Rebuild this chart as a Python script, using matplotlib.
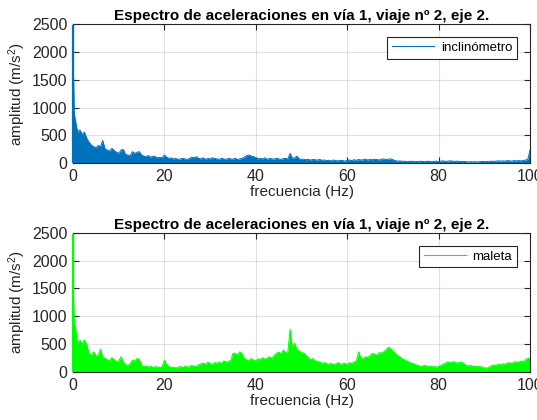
import numpy as np
import matplotlib
matplotlib.use("Agg")
import matplotlib.pyplot as plt

plt.rcParams['font.family'] = ['Liberation Sans', 'DejaVu Sans']
plt.rcParams['mathtext.default'] = 'regular'

# Spectrum peak envelopes, 0.5 Hz bins from 0.5 Hz to 100 Hz (10 bins per row = 5 Hz)
spike_freq = [0.0, 0.1, 0.25]
incl_spike = [2480, 1600, 900]
maleta_spike = [2480, 1390, 850]

incl_amp = [
    780, 560, 600, 520, 560, 450, 380, 330, 300, 280,
    320, 300, 410, 260, 240, 220, 270, 230, 200, 180,
    240, 250, 160, 150, 140, 210, 180, 200, 210, 150,
    130, 120, 140, 110, 130, 120, 100, 110, 100, 150,
    110, 90, 100, 80, 90, 70, 80, 90, 80, 70,
    90, 110, 100, 120, 90, 80, 100, 70, 90, 80,
    100, 90, 80, 70, 90, 80, 70, 90, 80, 75,
    90, 70, 80, 90, 110, 140, 150, 130, 120, 100,
    80, 90, 80, 100, 70, 90, 80, 75, 90, 80,
    70, 85, 90, 80, 180, 90, 100, 130, 80, 70,
    75, 65, 70, 60, 70, 65, 60, 70, 55, 60,
    50, 55, 45, 60, 50, 45, 55, 50, 40, 55,
    60, 50, 65, 55, 70, 60, 65, 75, 60, 70,
    65, 75, 70, 60, 75, 80, 70, 75, 80, 65,
    50, 40, 45, 35, 40, 30, 35, 40, 30, 35,
    30, 40, 35, 30, 40, 35, 30, 35, 40, 30,
    40, 45, 35, 40, 45, 40, 35, 40, 35, 30,
    35, 30, 25, 30, 25, 30, 25, 30, 35, 30,
    35, 30, 40, 35, 40, 45, 40, 45, 40, 50,
    45, 40, 50, 45, 50, 45, 50, 60, 70, 240,
]

maleta_amp = [
    815, 520, 576, 500, 576, 490, 330, 300, 365, 290,
    300, 410, 270, 250, 220, 200, 260, 220, 190, 200,
    275, 180, 130, 120, 150, 216, 200, 246, 230, 120,
    100, 110, 90, 110, 80, 100, 90, 80, 100, 216,
    130, 100, 80, 90, 70, 90, 100, 80, 110, 90,
    100, 120, 100, 110, 130, 150, 160, 140, 180, 150,
    140, 170, 160, 180, 150, 200, 180, 190, 210, 336,
    340, 300, 365, 320, 240, 220, 200, 246, 210, 200,
    240, 220, 260, 230, 250, 276, 240, 300, 336, 360,
    330, 396, 350, 360, 768, 430, 516, 400, 380, 350,
    340, 300, 260, 220, 246, 200, 190, 180, 160, 170,
    150, 140, 160, 130, 150, 170, 140, 150, 160, 130,
    170, 150, 186, 200, 365, 250, 240, 276, 260, 300,
    336, 320, 300, 350, 340, 365, 400, 444, 420, 380,
    336, 300, 276, 240, 220, 200, 180, 160, 150, 130,
    120, 100, 110, 120, 100, 110, 96, 100, 90, 100,
    120, 140, 160, 186, 170, 180, 186, 160, 170, 180,
    150, 126, 110, 120, 100, 110, 96, 100, 90, 80,
    66, 90, 110, 126, 120, 140, 130, 150, 140, 160,
    170, 150, 180, 186, 170, 200, 186, 220, 246, 246,
]

x_ticks = [0, 20, 40, 60, 80, 100]
y_ticks = [0, 500, 1000, 1500, 2000, 2500]
title_text = 'Espectro de aceleraciones en vía 1, viaje nº 2, eje 2.'

bins = np.arange(1, len(incl_amp) + 1) * 0.5
freq = np.concatenate([spike_freq, bins])
series = [
    (np.concatenate([incl_spike, incl_amp]), '#0072BD', 'inclinómetro'),
    (np.concatenate([maleta_spike, maleta_amp]), '#00FF00', 'maleta'),
]

dark = (0.15, 0.15, 0.15)
fig = plt.figure(figsize=(5.37, 4.2), dpi=100)
rects = [[0.136, 0.611, 0.851, 0.332], [0.136, 0.114, 0.851, 0.332]]

for rect, (amp, color, label) in zip(rects, series):
    ax = fig.add_axes(rect)
    ax.fill_between(freq, 0, amp, color=color, linewidth=0)
    ax.plot(freq, amp, color=color, linewidth=0.7, label=label)
    # DC component drawn as a vertical line at 0 Hz, on top of the left spine
    ax.vlines(freq[0], 0, amp[0], color=color, linewidth=1.6, zorder=4, clip_on=False)
    ax.set_xlim(0, 100)
    ax.set_ylim(0, 2500)
    ax.set_xticks(x_ticks)
    ax.set_yticks(y_ticks)
    ax.grid(True, color=dark, alpha=0.13, linewidth=0.8)
    ax.set_axisbelow(True)
    ax.tick_params(direction='in', length=4, width=0.8, top=True, right=True,
                   labelsize=11.5, colors=dark, labelcolor=dark, pad=4)
    for sp in ax.spines.values():
        sp.set_color(dark)
        sp.set_linewidth(0.8)
    ax.set_title(title_text, fontsize=11, fontweight='bold', color='black', pad=3)
    ax.set_xlabel('frecuencia (Hz)', fontsize=11, color=dark, labelpad=1)
    ax.set_ylabel('amplitud (m/s$^2$)', fontsize=11, color=dark, labelpad=3)
    leg = ax.legend(loc='upper right', fontsize=9.5, fancybox=False, framealpha=1,
                    edgecolor=dark, handlelength=3.2, handletextpad=0.5,
                    borderaxespad=1.0, borderpad=0.35)
    leg.get_frame().set_linewidth(0.8)
    for line in leg.get_lines():
        line.set_linewidth(0.8)

fig.savefig('out.png', dpi=100)
